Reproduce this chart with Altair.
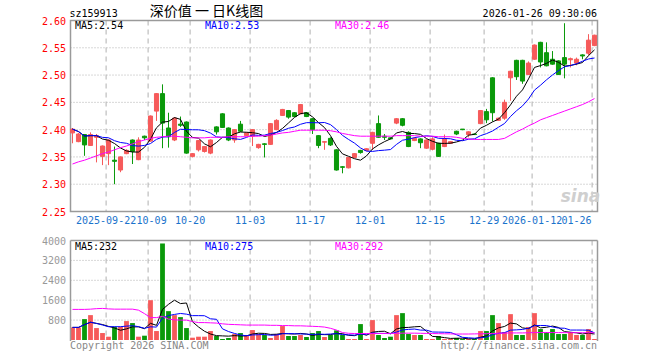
import altair as alt
import pandas as pd
import numpy as np

# ---------------- data ----------------
opens = [2.394, 2.378, 2.391, 2.371, 2.386, 2.351, 2.356, 2.344, 2.326, 2.356,
         2.381, 2.345, 2.388, 2.379, 2.434, 2.466, 2.403, 2.381, 2.410, 2.414,
         2.351, 2.363, 2.360, 2.357, 2.405, 2.429, 2.403, 2.381, 2.410, 2.389,
         2.388, 2.367, 2.374, 2.373, 2.400, 2.426, 2.435, 2.431, 2.429, 2.431,
         2.420, 2.389, 2.377, 2.384, 2.363, 2.332, 2.330, 2.349, 2.362, 2.362,
         2.375, 2.411, 2.388, 2.385, 2.412, 2.420, 2.395, 2.380, 2.383, 2.366,
         2.364, 2.375, 2.369, 2.375, 2.397, 2.401, 2.391, 2.392, 2.411, 2.433,
         2.495, 2.417, 2.421, 2.495, 2.527, 2.527, 2.501, 2.529, 2.560, 2.541,
         2.529, 2.526, 2.532, 2.528, 2.522, 2.537, 2.540, 2.554]
highs = [2.403, 2.394, 2.392, 2.395, 2.392, 2.371, 2.382, 2.369, 2.351, 2.364,
         2.382, 2.386, 2.389, 2.426, 2.467, 2.483, 2.431, 2.423, 2.424, 2.415,
         2.357, 2.381, 2.370, 2.382, 2.406, 2.430, 2.404, 2.401, 2.416, 2.395,
         2.401, 2.374, 2.375, 2.412, 2.419, 2.438, 2.436, 2.432, 2.447, 2.432,
         2.421, 2.390, 2.379, 2.386, 2.364, 2.333, 2.350, 2.357, 2.363, 2.366,
         2.396, 2.426, 2.392, 2.386, 2.421, 2.421, 2.397, 2.386, 2.384, 2.382,
         2.386, 2.376, 2.391, 2.379, 2.398, 2.401, 2.397, 2.393, 2.436, 2.438,
         2.496, 2.422, 2.455, 2.508, 2.528, 2.528, 2.525, 2.556, 2.561, 2.560,
         2.544, 2.527, 2.595, 2.532, 2.532, 2.538, 2.575, 2.574]
lows = [2.375, 2.377, 2.352, 2.370, 2.340, 2.335, 2.335, 2.300, 2.322, 2.355,
        2.337, 2.344, 2.381, 2.378, 2.416, 2.366, 2.367, 2.379, 2.405, 2.356,
        2.349, 2.360, 2.358, 2.355, 2.391, 2.403, 2.379, 2.376, 2.396, 2.388,
        2.370, 2.365, 2.349, 2.372, 2.399, 2.425, 2.420, 2.423, 2.428, 2.423,
        2.392, 2.366, 2.363, 2.370, 2.325, 2.320, 2.329, 2.348, 2.356, 2.361,
        2.363, 2.385, 2.381, 2.382, 2.410, 2.406, 2.368, 2.379, 2.366, 2.365,
        2.362, 2.350, 2.368, 2.374, 2.390, 2.399, 2.386, 2.391, 2.410, 2.412,
        2.415, 2.416, 2.418, 2.453, 2.491, 2.484, 2.500, 2.528, 2.514, 2.516,
        2.519, 2.500, 2.494, 2.514, 2.518, 2.529, 2.536, 2.553]
closes = [2.401, 2.392, 2.372, 2.391, 2.389, 2.370, 2.381, 2.342, 2.350, 2.362,
          2.360, 2.381, 2.385, 2.425, 2.466, 2.412, 2.387, 2.421, 2.408, 2.357,
          2.356, 2.380, 2.369, 2.381, 2.396, 2.404, 2.381, 2.400, 2.397, 2.394,
          2.400, 2.373, 2.373, 2.411, 2.417, 2.437, 2.423, 2.424, 2.446, 2.424,
          2.400, 2.371, 2.378, 2.372, 2.326, 2.331, 2.349, 2.356, 2.358, 2.365,
          2.395, 2.386, 2.386, 2.383, 2.420, 2.408, 2.369, 2.384, 2.376, 2.381,
          2.383, 2.351, 2.383, 2.378, 2.392, 2.400, 2.396, 2.391, 2.435, 2.418,
          2.431, 2.421, 2.450, 2.507, 2.497, 2.489, 2.522, 2.555, 2.524, 2.517,
          2.520, 2.501, 2.520, 2.530, 2.529, 2.535, 2.564, 2.573]
volumes = [507, 507, 840, 1000, 480, 280, 133, 533, 533, 760,
           680, 133, 173, 1600, 360, 3880, 1160, 1000, 920, 480,
           93, 133, 133, 360, 160, 40, 80, 240, 280, 200,
           400, 240, 200, 80, 240, 560, 160, 160, 200, 120,
           280, 360, 120, 200, 387, 200, 40, 40, 640, 40,
           800, 200, 80, 133, 1000, 1080, 240, 200, 200, 40,
           40, 160, 40, 40, 80, 40, 40, 40, 360, 360,
           1000, 680, 320, 1040, 200, 200, 520, 1080, 440, 320,
           440, 240, 240, 320, 200, 200, 440, 40]
ma30_price = [2.337, 2.341, 2.344, 2.348, 2.352, 2.356, 2.359, 2.363, 2.367, 2.370,
              2.374, 2.378, 2.381, 2.384, 2.386, 2.387, 2.388, 2.388, 2.387, 2.386,
              2.385, 2.385, 2.385, 2.386, 2.386, 2.386, 2.387, 2.387, 2.387, 2.387,
              2.388, 2.388, 2.389, 2.390, 2.392, 2.394, 2.395, 2.397, 2.399, 2.399,
              2.399, 2.399, 2.399, 2.398, 2.396, 2.393, 2.391, 2.389, 2.388, 2.388,
              2.388, 2.388, 2.388, 2.388, 2.389, 2.389, 2.389, 2.389, 2.388, 2.388,
              2.388, 2.387, 2.387, 2.387, 2.386, 2.384, 2.383, 2.382, 2.382, 2.382,
              2.382, 2.382, 2.384, 2.390, 2.396, 2.401, 2.407, 2.412, 2.418, 2.422,
              2.426, 2.430, 2.434, 2.438, 2.442, 2.446, 2.451, 2.457]
ma30_vol = [1230, 1230, 1230, 1240, 1260, 1270, 1250, 1240, 1240, 1240,
            1240, 1200, 1060, 900, 900, 950, 840, 810, 800, 800,
            740, 700, 700, 690, 680, 650, 630, 620, 610, 600,
            600, 600, 600, 590, 590, 580, 580, 570, 570, 560,
            550, 540, 520, 470, 400, 300, 270, 260, 260, 260,
            260, 260, 265, 265, 270, 275, 275, 275, 270, 265,
            260, 255, 250, 245, 240, 240, 240, 245, 250, 255,
            265, 270, 275, 285, 285, 285, 290, 300, 300, 300,
            300, 298, 296, 295, 294, 293, 292, 292]

tick_bars = [7, 14, 21, 31, 41, 51, 61, 70, 78, 88]
tick_labels = ["2025-09-22", "10-09", "10-20", "11-03", "11-17",
               "12-01", "12-15", "12-29", "2026-01-12", "01-26"]
price_ticks = [2.25, 2.30, 2.35, 2.40, 2.45, 2.50, 2.55, 2.60]
vol_ticks = [800, 1600, 2400, 3200, 4000]
price_legend = ["MA5:2.54", "MA10:2.53", "MA30:2.46"]
vol_legend = ["MA5:232", "MA10:275", "MA30:292"]
code_text = "sz159913"
title_text = "深价值 一 日K线图"
time_text = "2026-01-26 09:30:06"
copyright_text = "Copyright 2026 SINA.COM"
url_text = "http://finance.sina.com.cn"

# ---------------- styling ----------------
RED = "#f65a5a"
GREEN = "#0a990a"
MONO = "DejaVu Sans Mono"
GRID = "#b0b0b0"
FRAME = "#9a9a9a"
W = 527
HP = 191
VTOP, VBOT = 220, 319.5
LEG_X = [4.5, 134.5, 264.5]
LEG_C = ["black", "#0000ff", "#ff00ff"]

df = pd.DataFrame({"i": list(range(1, len(closes) + 1)), "o": opens, "h": highs,
                   "l": lows, "c": closes, "v": volumes,
                   "ma30": ma30_price, "vma30": ma30_vol})
df["dir"] = np.where(df["c"] >= df["o"], "up", "down")
ticks = pd.DataFrame({"n": tick_bars, "label": tick_labels})
one = pd.DataFrame({"k": [0]})

X = alt.Scale(domain=[0.667, 88.5], nice=False, zero=False)
YP = alt.Scale(domain=[2.25, 2.60], range=[HP, 0], nice=False, zero=False)
YV = alt.Scale(domain=[0, 4000], range=[VBOT, VTOP], nice=False, zero=False)
COL = alt.Scale(domain=["up", "down"], range=[RED, GREEN])


def xq(f):
    return alt.X(f, type="quantitative", scale=X, axis=None)


def yp(f):
    return alt.Y(f, type="quantitative", scale=YP, axis=None)


def yv(f):
    return alt.Y(f, type="quantitative", scale=YV, axis=None)


def txt(s, x, y, color="black", size=10, align="left", baseline="middle", font=MONO):
    return alt.Chart(one).mark_text(text=s, align=align, baseline=baseline, font=font,
                                    fontSize=size, color=color).encode(
        x=alt.value(x), y=alt.value(y))


# ---------------- price panel ----------------
p_grid = alt.Chart(pd.DataFrame({"p": price_ticks[1:-1]})).mark_rule(
    color=GRID, strokeDash=[1, 2], strokeWidth=1).encode(
    y=yp("p"), x=alt.value(0), x2=alt.value(W))
p_vgrid = alt.Chart(ticks).transform_calculate(tp="datum.n - 0.4").mark_rule(
    color=GRID, strokeDash=[5, 4], strokeWidth=1).encode(
    x=xq("tp"), y=alt.value(0), y2=alt.value(HP))
p_frame = alt.Chart(one).mark_rect(fillOpacity=0, stroke=FRAME, strokeWidth=1.5).encode(
    x=alt.value(0), x2=alt.value(W), y=alt.value(0), y2=alt.value(HP))
wicks = alt.Chart(df).mark_rule(strokeWidth=1).encode(
    x=xq("i"), y=yp("l"), y2="h",
    color=alt.Color("dir:N", scale=COL, legend=None))
bodies = alt.Chart(df).transform_calculate(
    x0="datum.i - 0.34", x1="datum.i + 0.34").mark_rect(strokeWidth=1).encode(
    x=xq("x0"), x2="x1", y=yp("o"), y2="c",
    color=alt.Color("dir:N", scale=COL, legend=None),
    stroke=alt.Stroke("dir:N", scale=COL, legend=None))
ma5 = alt.Chart(df).transform_window(
    m="mean(c)", frame=[-4, 0], sort=[alt.SortField("i")]).mark_line(
    color="black", strokeWidth=1).encode(x=xq("i"), y=yp("m"))
ma10 = alt.Chart(df).transform_window(
    m="mean(c)", frame=[-9, 0], sort=[alt.SortField("i")]).mark_line(
    color="#0000ff", strokeWidth=1).encode(x=xq("i"), y=yp("m"))
ma30 = alt.Chart(df).mark_line(color="#ff00ff", strokeWidth=1).encode(
    x=xq("i"), y=yp("ma30"))
p_labels = alt.Chart(pd.DataFrame({"p": price_ticks})).mark_text(
    align="right", baseline="middle", font=MONO, fontSize=10, color="#ff0000", dy=1).encode(
    y=yp("p"), x=alt.value(-4.5), text=alt.Text("p:Q", format=".2f"))

date_main = alt.Chart(ticks).transform_calculate(tp="datum.n - 0.4").transform_filter(
    "datum.label != '10-09' && datum.label != '01-26'").mark_text(
    align="center", baseline="middle", font=MONO, fontSize=10, color="#1a73cc").encode(
    x=xq("tp"), y=alt.value(200.5), text="label:N")
date_a = alt.Chart(ticks).transform_calculate(tp="datum.n - 0.4").transform_filter(
    "datum.label == '10-09'").mark_text(
    align="center", baseline="middle", font=MONO, fontSize=10, color="#1a73cc", dx=3.5).encode(
    x=xq("tp"), y=alt.value(200.5), text="label:N")
date_b = alt.Chart(ticks).transform_calculate(tp="datum.n - 0.4").transform_filter(
    "datum.label == '01-26'").mark_text(
    align="right", baseline="middle", font=MONO, fontSize=10, color="#1a73cc", dx=-0.5).encode(
    x=xq("tp"), y=alt.value(200.5), text="label:N")

watermark = alt.Chart(one).mark_text(
    text="sina", align="center", baseline="middle", font="DejaVu Sans", fontSize=17,
    fontStyle="italic", fontWeight="bold", color="#cfcfcf").encode(
    x=alt.value(510), y=alt.value(176))

price_texts = [
    txt(code_text, -1, -4, baseline="alphabetic"),
    txt(title_text, 136, -4.5, size=14, align="center", baseline="alphabetic",
        font="Noto Sans CJK SC"),
    txt(time_text, 526.5, -4, align="right", baseline="alphabetic"),
] + [txt(s, x, 5.5, color=c) for s, x, c in zip(price_legend, LEG_X, LEG_C)]

price = alt.layer(p_grid, p_vgrid, p_frame, wicks, bodies, ma5, ma10, ma30,
                  p_labels, date_main, date_a, date_b, watermark, *price_texts)

# ---------------- volume panel ----------------
v_grid = alt.Chart(pd.DataFrame({"v": vol_ticks[:-1]})).mark_rule(
    color=GRID, strokeDash=[1, 2], strokeWidth=1).encode(
    y=yv("v"), x=alt.value(0), x2=alt.value(W))
v_vgrid = alt.Chart(ticks).transform_calculate(tp="datum.n - 0.4").mark_rule(
    color=GRID, strokeDash=[5, 4], strokeWidth=1).encode(
    x=xq("tp"), y=alt.value(VTOP), y2=alt.value(VBOT))
v_top = alt.Chart(one).mark_rule(color=FRAME, strokeWidth=1.5).encode(
    x=alt.value(0), x2=alt.value(W), y=alt.value(VTOP))
v_left = alt.Chart(one).mark_rule(color=FRAME, strokeWidth=1.5).encode(
    x=alt.value(0), y=alt.value(VTOP), y2=alt.value(VBOT + 1))
v_right = alt.Chart(one).mark_rule(color=FRAME, strokeWidth=1.5).encode(
    x=alt.value(W), y=alt.value(VTOP), y2=alt.value(VBOT + 1))
vbars = alt.Chart(df).transform_calculate(
    x0="datum.i - 0.4", x1="datum.i + 0.4").mark_rect().encode(
    x=xq("x0"), x2="x1", y=yv("v"), y2=alt.datum(0),
    color=alt.Color("dir:N", scale=COL, legend=None))
vma5 = alt.Chart(df).transform_window(
    m="mean(v)", frame=[-4, 0], sort=[alt.SortField("i")]).mark_line(
    color="black", strokeWidth=1).encode(x=xq("i"), y=yv("m"))
vma10 = alt.Chart(df).transform_window(
    m="mean(v)", frame=[-9, 0], sort=[alt.SortField("i")]).mark_line(
    color="#0000ff", strokeWidth=1).encode(x=xq("i"), y=yv("m"))
vma30 = alt.Chart(df).mark_line(color="#ff00ff", strokeWidth=1).encode(
    x=xq("i"), y=yv("vma30"))
v_labels = alt.Chart(pd.DataFrame({"v": vol_ticks})).mark_text(
    align="right", baseline="middle", font=MONO, fontSize=10, color="#999999", dy=1).encode(
    y=yv("v"), x=alt.value(-4.5), text=alt.Text("v:Q", format="d"))

vol_texts = [txt(s, x, 226, color=c) for s, x, c in zip(vol_legend, LEG_X, LEG_C)] + [
    txt(copyright_text, -0.5, 328.5, color="#888888", baseline="alphabetic"),
    txt(url_text, 526.5, 328.5, color="#888888", align="right", baseline="alphabetic"),
]

volume = alt.layer(v_grid, v_vgrid, vbars, vma5, vma10, vma30,
                   v_top, v_left, v_right, v_labels, *vol_texts)

chart = alt.layer(price, volume).resolve_scale(y="independent").properties(
    width=W, height=320,
    padding={"left": 70.5, "top": 20.5, "right": 62.5, "bottom": 19.5},
    autosize=alt.AutoSizeParams(type="none"),
    background="white",
).configure_view(strokeWidth=0)

chart.save("out.html", embed_options={"renderer": "svg", "actions": False})
